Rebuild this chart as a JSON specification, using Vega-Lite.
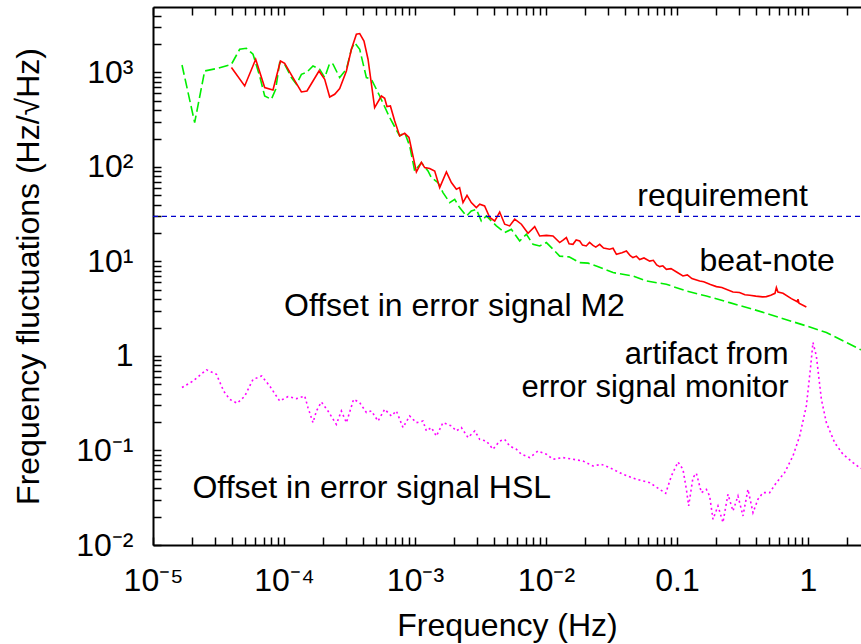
{
  "$schema": "https://vega.github.io/schema/vega-lite/v6.json",
  "width": 708,
  "height": 538,
  "autosize": {"type": "none"},
  "padding": {"left": 153, "top": 7, "right": 0, "bottom": 99},
  "background": "white",
  "config": {"view": {"stroke": null}, "font": "Liberation Sans"},
  "datasets": {
    "mag": [
      {"f":1.665e-5,"v":0.464},{"f":2.02e-5,"v":0.543},{"f":2.56e-5,"v":0.714},{"f":3.05e-5,"v":0.64},{"f":3.47e-5,"v":0.423},{"f":3.85e-5,"v":0.348},{"f":4.39e-5,"v":0.316},{"f":5.01e-5,"v":0.375},{"f":5.8e-5,"v":0.566},{"f":6.76e-5,"v":0.614},{"f":7.78e-5,"v":0.481},{"f":9.27e-5,"v":0.334},{"f":1.073e-4,"v":0.372},{"f":1.244e-4,"v":0.354},{"f":1.439e-4,"v":0.377},{"f":1.525e-4,"v":0.284},{"f":1.665e-4,"v":0.197},{"f":1.768e-4,"v":0.262},{"f":1.93e-4,"v":0.326},{"f":2.167e-4,"v":0.262},{"f":2.51e-4,"v":0.189},{"f":2.74e-4,"v":0.262},{"f":2.995e-4,"v":0.197},{"f":3.4e-4,"v":0.348},{"f":3.785e-4,"v":0.321},{"f":4.256e-4,"v":0.252},{"f":4.65e-4,"v":0.262},{"f":5.22e-4,"v":0.205},{"f":5.87e-4,"v":0.273},{"f":6.6e-4,"v":0.232},{"f":7.21e-4,"v":0.262},{"f":8.1e-4,"v":0.175},{"f":9.11e-4,"v":0.232},{"f":1.025e-3,"v":0.197},{"f":1.151e-3,"v":0.205},{"f":1.222e-3,"v":0.161},{"f":1.334e-3,"v":0.175},{"f":1.457e-3,"v":0.142},{"f":1.636e-3,"v":0.197},{"f":1.896e-3,"v":0.182},{"f":2.07e-3,"v":0.161},{"f":2.26e-3,"v":0.175},{"f":2.54e-3,"v":0.137},{"f":2.86e-3,"v":0.161},{"f":3.12e-3,"v":0.131},{"f":3.51e-3,"v":0.126},{"f":3.94e-3,"v":0.103},{"f":4.43e-3,"v":0.126},{"f":4.84e-3,"v":0.131},{"f":5.28e-3,"v":0.1116},{"f":5.94e-3,"v":0.103},{"f":6.49e-3,"v":0.0912},{"f":7.51e-3,"v":0.0841},{"f":8.69e-3,"v":0.0988},{"f":1.007e-2,"v":0.0912},{"f":1.131e-2,"v":0.0807},{"f":1.348e-2,"v":0.0841},{"f":1.607e-2,"v":0.0807},{"f":1.916e-2,"v":0.0774},{"f":2.285e-2,"v":0.0685},{"f":2.65e-2,"v":0.0714},{"f":3.06e-2,"v":0.0659},{"f":3.87e-2,"v":0.056},{"f":4.9e-2,"v":0.0496},{"f":6.19e-2,"v":0.0457},{"f":8.2e-2,"v":0.0352},{"f":9.06e-2,"v":0.0537},{"f":0.1018,"v":0.0755},{"f":0.1111,"v":0.0632},{"f":0.118,"v":0.0388},{"f":0.1228,"v":0.0259},{"f":0.1325,"v":0.0517},{"f":0.1406,"v":0.0574},{"f":0.1536,"v":0.0358},{"f":0.1677,"v":0.0388},{"f":0.1776,"v":0.033},{"f":0.1883,"v":0.0187},{"f":0.2056,"v":0.0259},{"f":0.2244,"v":0.0173},{"f":0.245,"v":0.0344},{"f":0.2676,"v":0.0229},{"f":0.2922,"v":0.033},{"f":0.319,"v":0.0203},{"f":0.3483,"v":0.0388},{"f":0.3804,"v":0.022},{"f":0.4153,"v":0.0305},{"f":0.4535,"v":0.0358},{"f":0.51,"v":0.0358},{"f":0.574,"v":0.0457},{"f":0.664,"v":0.0584},{"f":0.768,"v":0.0875},{"f":0.864,"v":0.142},{"f":0.972,"v":0.296},{"f":1.043,"v":0.723},{"f":1.092,"v":1.39},{"f":1.159,"v":1.0},{"f":1.266,"v":0.348},{"f":1.382,"v":0.197},{"f":1.599,"v":0.121},{"f":1.85,"v":0.0912},{"f":2.206,"v":0.0745},{"f":2.48,"v":0.0659},{"f":3.0,"v":0.058}
    ],
    "green": [
      {"f":1.665e-5,"v":1200},{"f":2.08e-5,"v":295},{"f":2.48e-5,"v":1037},{"f":3.13e-5,"v":1107},{"f":3.97e-5,"v":1222},{"f":4.59e-5,"v":1760},{"f":5.16e-5,"v":1803},{"f":5.8e-5,"v":1559},{"f":6.52e-5,"v":918},{"f":7.12e-5,"v":564},{"f":8.01e-5,"v":520},{"f":8.64e-5,"v":664},{"f":9.27e-5,"v":1273},{"f":1.012e-4,"v":1222},{"f":1.139e-4,"v":883},{"f":1.244e-4,"v":750},{"f":1.358e-4,"v":957},{"f":1.483e-4,"v":998},{"f":1.665e-4,"v":1172},{"f":1.873e-4,"v":1082},{"f":2.045e-4,"v":883},{"f":2.233e-4,"v":1250},{"f":2.366e-4,"v":1222},{"f":2.662e-4,"v":883},{"f":2.995e-4,"v":1082},{"f":3.27e-4,"v":1760},{"f":3.465e-4,"v":2070},{"f":3.785e-4,"v":1760},{"f":4.256e-4,"v":883},{"f":4.65e-4,"v":847},{"f":5.377e-4,"v":564},{"f":6.41e-4,"v":333},{"f":7.64e-4,"v":213},{"f":8.34e-4,"v":231},{"f":9.11e-4,"v":167},{"f":9.95e-4,"v":90.7},{"f":1.119e-3,"v":111},{"f":1.257e-3,"v":90.7},{"f":1.334e-3,"v":77.2},{"f":1.498e-3,"v":68.4},{"f":1.636e-3,"v":53.6},{"f":1.84e-3,"v":42},{"f":2.01e-3,"v":45.5},{"f":2.19e-3,"v":37.2},{"f":2.47e-3,"v":30.3},{"f":2.69e-3,"v":34.2},{"f":2.94e-3,"v":35.7},{"f":3.21e-3,"v":26.8},{"f":3.51e-3,"v":30.3},{"f":4.18e-3,"v":23.8},{"f":4.84e-3,"v":20.2},{"f":5.44e-3,"v":21.9},{"f":6.3e-3,"v":16.5},{"f":7.09e-3,"v":19.4},{"f":7.96e-3,"v":15.2},{"f":8.95e-3,"v":14.6},{"f":1.007e-2,"v":15.85},{"f":1.131e-2,"v":13.5},{"f":1.272e-2,"v":11.4},{"f":1.5e-2,"v":11.2},{"f":1.808e-2,"v":9.73},{"f":2.1e-2,"v":9.6},{"f":2.42e-2,"v":8.96},{"f":3.25e-2,"v":7.63},{"f":4.61e-2,"v":7.03},{"f":5.84e-2,"v":6.22},{"f":8.3e-2,"v":5.74},{"f":0.118,"v":4.87},{"f":0.1677,"v":4.31},{"f":0.2525,"v":3.67},{"f":0.3804,"v":3.12},{"f":0.608,"v":2.55},{"f":0.972,"v":2.08},{"f":1.382,"v":1.77},{"f":1.964,"v":1.39},{"f":2.48,"v":1.18},{"f":3.0,"v":1.07}
    ],
    "red": [
      {"f":3.97e-5,"v":1127},{"f":5.01e-5,"v":720},{"f":6.08e-5,"v":1380},{"f":7.12e-5,"v":692},{"f":8.24e-5,"v":653},{"f":9.39e-5,"v":1324},{"f":1.012e-4,"v":1250},{"f":1.171e-4,"v":883},{"f":1.358e-4,"v":622},{"f":1.498e-4,"v":637},{"f":1.665e-4,"v":813},{"f":1.85e-4,"v":1037},{"f":2.045e-4,"v":847},{"f":2.233e-4,"v":550},{"f":2.438e-4,"v":588},{"f":2.662e-4,"v":676},{"f":2.995e-4,"v":1037},{"f":3.27e-4,"v":1760},{"f":3.57e-4,"v":2535},{"f":3.785e-4,"v":2580},{"f":4.08e-4,"v":2153},{"f":4.38e-4,"v":1380},{"f":4.92e-4,"v":425},{"f":5.54e-4,"v":564},{"f":5.87e-4,"v":533},{"f":6.11e-4,"v":436},{"f":6.49e-4,"v":442},{"f":7.0e-4,"v":307},{"f":7.64e-4,"v":213},{"f":8.34e-4,"v":227},{"f":9.0e-4,"v":205},{"f":9.65e-4,"v":131},{"f":1.025e-3,"v":88.5},{"f":1.119e-3,"v":112},{"f":1.186e-3,"v":98.6},{"f":1.295e-3,"v":96.2},{"f":1.414e-3,"v":90.7},{"f":1.544e-3,"v":60.5},{"f":1.737e-3,"v":88.5},{"f":1.896e-3,"v":68.4},{"f":2.07e-3,"v":58.1},{"f":2.19e-3,"v":60.5},{"f":2.325e-3,"v":42},{"f":2.495e-3,"v":50.2},{"f":2.69e-3,"v":42},{"f":2.94e-3,"v":37.2},{"f":3.12e-3,"v":40.3},{"f":3.4e-3,"v":38.7},{"f":3.72e-3,"v":29.2},{"f":4.06e-3,"v":26.8},{"f":4.43e-3,"v":33.4},{"f":4.84e-3,"v":24.8},{"f":5.28e-3,"v":23.8},{"f":5.77e-3,"v":28},{"f":6.49e-3,"v":24.8},{"f":7.29e-3,"v":19.9},{"f":8.2e-3,"v":23.4},{"f":8.95e-3,"v":18.6},{"f":1.007e-2,"v":18.9},{"f":1.131e-2,"v":18.6},{"f":1.272e-2,"v":15.85},{"f":1.35e-2,"v":16.8},{"f":1.431e-2,"v":17.9},{"f":1.5e-2,"v":15.4},{"f":1.607e-2,"v":15.2},{"f":1.7e-2,"v":16.9},{"f":1.808e-2,"v":16.5},{"f":1.9e-2,"v":14.9},{"f":2.03e-2,"v":14.6},{"f":2.15e-2,"v":15.9},{"f":2.285e-2,"v":14.8},{"f":2.4e-2,"v":14.2},{"f":2.57e-2,"v":15.2},{"f":2.75e-2,"v":13.9},{"f":3.06e-2,"v":13.5},{"f":3.25e-2,"v":13.8},{"f":3.45e-2,"v":11.9},{"f":3.8e-2,"v":12.4},{"f":4.11e-2,"v":12.9},{"f":4.4e-2,"v":11.5},{"f":4.61e-2,"v":11.0},{"f":4.9e-2,"v":11.4},{"f":5.19e-2,"v":10.5},{"f":5.6e-2,"v":10.9},{"f":6.19e-2,"v":10.1},{"f":6.6e-2,"v":10.3},{"f":7.0e-2,"v":9.2},{"f":7.38e-2,"v":8.83},{"f":7.8e-2,"v":9.0},{"f":8.3e-2,"v":8.27},{"f":9.0e-2,"v":8.4},{"f":0.1,"v":7.7},{"f":0.1111,"v":7.03},{"f":0.12,"v":7.2},{"f":0.13,"v":6.6},{"f":0.149,"v":6.22},{"f":0.16,"v":6.1},{"f":0.18,"v":5.7},{"f":0.2,"v":5.42},{"f":0.22,"v":5.3},{"f":0.2676,"v":4.75},{"f":0.3,"v":4.7},{"f":0.33,"v":4.45},{"f":0.359,"v":4.39},{"f":0.4,"v":4.3},{"f":0.45,"v":4.22},{"f":0.4813,"v":4.25},{"f":0.52,"v":4.4},{"f":0.56,"v":4.6},{"f":0.574,"v":5.3},{"f":0.59,"v":4.75},{"f":0.6447,"v":4.61},{"f":0.747,"v":4.05},{"f":0.83,"v":3.75},{"f":0.839,"v":4.0},{"f":0.854,"v":3.61},{"f":0.972,"v":3.3}
    ],
    "req": [{"f":1e-5,"v":30},{"f":3.0,"v":30}],
    "annL": [
      {"f":1e-4,"v":2.63,"t":"Offset in error signal M2"},
      {"f":2e-5,"v":0.0318,"t":"Offset in error signal HSL"}
    ],
    "annR": [
      {"f":1.0,"v":38.6,"t":"requirement"},
      {"f":1.6,"v":7.87,"t":"beat-note"}
    ],
    "annR2": [
      {"f":0.71,"v":0.817,"t":"artifact from\nerror signal monitor"}
    ]
  },
  "resolve": {"axis": {"x": "independent", "y": "independent"}},
  "layer": [
    {
      "data": {"name": "mag"},
      "mark": {"type": "line", "color": "#ff00ff", "strokeWidth": 1.6, "strokeDash": [2, 3], "clip": true},
      "encoding": {
        "x": {
          "field": "f", "type": "quantitative",
          "scale": {"type": "log", "domain": [1e-5, 2.54], "nice": false},
          "axis": {
            "orient": "bottom",
            "values": [1e-5,2e-5,3e-5,4e-5,5e-5,6e-5,7e-5,8e-5,9e-5,1e-4,2e-4,3e-4,4e-4,5e-4,6e-4,7e-4,8e-4,9e-4,1e-3,2e-3,3e-3,4e-3,5e-3,6e-3,7e-3,8e-3,9e-3,1e-2,2e-2,3e-2,4e-2,5e-2,6e-2,7e-2,8e-2,9e-2,0.1,0.2,0.3,0.4,0.5,0.6,0.7,0.8,0.9,1,2],
            "labelExpr": "abs(datum.value-1e-5)<1e-9 ? '10⁻⁵' : abs(datum.value-1e-4)<1e-8 ? '10⁻⁴' : abs(datum.value-1e-3)<1e-7 ? '10⁻³' : abs(datum.value-1e-2)<1e-6 ? '10⁻²' : abs(datum.value-0.1)<1e-5 ? '0.1' : abs(datum.value-1)<1e-4 ? '1' : ''",
            "grid": false,
            "tickSize": -8, "tickWidth": 1.5, "tickColor": "black",
            "domainColor": "black", "domainWidth": 2,
            "labelFont": "Liberation Sans", "labelFontSize": 32, "labelColor": "black",
            "labelPadding": 53, "labelBaseline": "alphabetic",
            "labelOverlap": false, "labelFlush": false, "labelBound": false,
            "title": "Frequency (Hz)", "titleFont": "Liberation Sans", "titleFontSize": 32,
            "titleFontWeight": "normal", "titleColor": "black", "titlePadding": 14
          }
        },
        "y": {
          "field": "v", "type": "quantitative",
          "scale": {"type": "log", "domain": [0.01, 4930], "nice": false},
          "axis": {
            "orient": "left",
            "values": [0.01,0.02,0.03,0.04,0.05,0.06,0.07,0.08,0.09,0.1,0.2,0.3,0.4,0.5,0.6,0.7,0.8,0.9,1,2,3,4,5,6,7,8,9,10,20,30,40,50,60,70,80,90,100,200,300,400,500,600,700,800,900,1000,2000,3000,4000],
            "labelExpr": "abs(datum.value-0.01)<1e-6 ? '10⁻²' : abs(datum.value-0.1)<1e-5 ? '10⁻¹' : abs(datum.value-1)<1e-4 ? '1' : abs(datum.value-10)<1e-3 ? '10¹' : abs(datum.value-100)<1e-2 ? '10²' : abs(datum.value-1000)<0.1 ? '10³' : ''",
            "grid": false,
            "tickSize": -8, "tickWidth": 1.5, "tickColor": "black",
            "domainColor": "black", "domainWidth": 2,
            "labelFont": "Liberation Sans", "labelFontSize": 32, "labelColor": "black",
            "labelPadding": 28,
            "labelOverlap": false, "labelFlush": false, "labelBound": false,
            "title": "Frequency fluctuations (Hz/√Hz)", "titleFont": "Liberation Sans", "titleFontSize": 32,
            "titleFontWeight": "normal", "titleColor": "black", "titlePadding": 30
          }
        }
      }
    },
    {
      "data": {"name": "green"},
      "mark": {"type": "line", "color": "#00ee00", "strokeWidth": 1.6, "strokeDash": [10, 4], "clip": true},
      "encoding": {
        "x": {"field": "f", "type": "quantitative", "axis": null},
        "y": {"field": "v", "type": "quantitative", "axis": null}
      }
    },
    {
      "data": {"name": "red"},
      "mark": {"type": "line", "color": "#ff0000", "strokeWidth": 1.6, "clip": true},
      "encoding": {
        "x": {"field": "f", "type": "quantitative", "axis": null},
        "y": {"field": "v", "type": "quantitative", "axis": null}
      }
    },
    {
      "data": {"name": "req"},
      "mark": {"type": "line", "color": "#0000cc", "strokeWidth": 1.2, "strokeDash": [5, 4], "clip": true},
      "encoding": {
        "x": {
          "field": "f", "type": "quantitative",
          "axis": {
            "orient": "top",
            "values": [1e-5,2e-5,3e-5,4e-5,5e-5,6e-5,7e-5,8e-5,9e-5,1e-4,2e-4,3e-4,4e-4,5e-4,6e-4,7e-4,8e-4,9e-4,1e-3,2e-3,3e-3,4e-3,5e-3,6e-3,7e-3,8e-3,9e-3,1e-2,2e-2,3e-2,4e-2,5e-2,6e-2,7e-2,8e-2,9e-2,0.1,0.2,0.3,0.4,0.5,0.6,0.7,0.8,0.9,1,2],
            "labels": false, "grid": false, "title": null,
            "tickSize": -8, "tickWidth": 1.5, "tickColor": "black",
            "domainColor": "black", "domainWidth": 2
          }
        },
        "y": {"field": "v", "type": "quantitative", "axis": null}
      }
    },
    {
      "data": {"name": "annL"},
      "mark": {"type": "text", "align": "left", "baseline": "alphabetic", "font": "Liberation Sans", "fontSize": 32, "color": "black"},
      "encoding": {
        "x": {"field": "f", "type": "quantitative", "axis": null},
        "y": {"field": "v", "type": "quantitative", "axis": null},
        "text": {"field": "t"}
      }
    },
    {
      "data": {"name": "annR"},
      "mark": {"type": "text", "align": "right", "baseline": "alphabetic", "font": "Liberation Sans", "fontSize": 32, "color": "black"},
      "encoding": {
        "x": {"field": "f", "type": "quantitative", "axis": null},
        "y": {"field": "v", "type": "quantitative", "axis": null},
        "text": {"field": "t"}
      }
    },
    {
      "data": {"name": "annR2"},
      "mark": {"type": "text", "align": "right", "baseline": "alphabetic", "lineBreak": "\n", "lineHeight": 33, "font": "Liberation Sans", "fontSize": 31, "color": "black"},
      "encoding": {
        "x": {"field": "f", "type": "quantitative", "axis": null},
        "y": {"field": "v", "type": "quantitative", "axis": null},
        "text": {"field": "t"}
      }
    }
  ]
}
